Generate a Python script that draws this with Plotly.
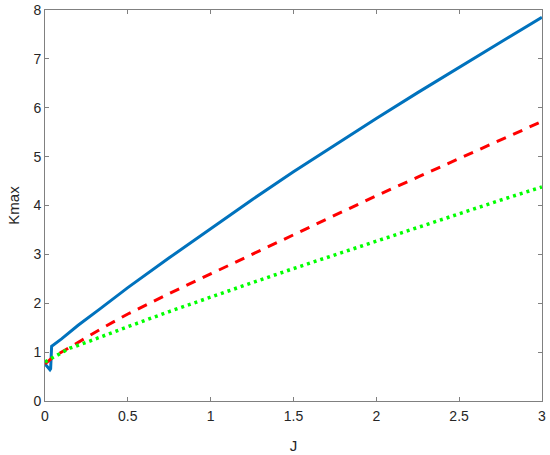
import plotly.graph_objects as go

# Blue solid curve
j_blue = [0.0, 0.015, 0.03, 0.034, 0.036, 0.04, 0.1, 0.2, 0.33, 0.5, 0.75, 1.0, 1.25, 1.5, 1.75, 2.0, 2.25, 2.5, 2.75, 3.0]
k_blue = [0.76, 0.70, 0.64, 0.66, 1.05, 1.12, 1.27, 1.55, 1.88, 2.32, 2.93, 3.53, 4.12, 4.69, 5.24, 5.78, 6.31, 6.83, 7.34, 7.85]

# Red dashed curve
j_red = [0.0, 0.05, 0.15, 0.25, 0.35, 0.5, 0.75, 1.0, 1.25, 1.5, 1.75, 2.0, 2.25, 2.5, 2.75, 3.0]
k_red = [0.76, 0.9, 1.1, 1.3, 1.5, 1.78, 2.2, 2.6, 3.0, 3.4, 3.8, 4.2, 4.58, 4.96, 5.34, 5.72]

# Green dotted curve
j_green = [0.0, 0.05, 0.15, 0.25, 0.35, 0.5, 0.75, 1.0, 1.25, 1.5, 1.75, 2.0, 2.25, 2.5, 2.75, 3.0]
k_green = [0.80, 0.9, 1.08, 1.2, 1.33, 1.52, 1.83, 2.13, 2.42, 2.71, 2.99, 3.28, 3.56, 3.83, 4.11, 4.38]

x_ticks = [0, 0.5, 1, 1.5, 2, 2.5, 3]
x_tick_labels = ["0", "0.5", "1", "1.5", "2", "2.5", "3"]
y_ticks = [0, 1, 2, 3, 4, 5, 6, 7, 8]

FONT = "Liberation Sans, Arial, sans-serif"

fig = go.Figure()
fig.add_trace(go.Scatter(x=j_blue, y=k_blue, mode="lines",
                         line=dict(color="#0072BD", width=3), showlegend=False))
fig.add_trace(go.Scatter(x=j_red, y=k_red, mode="lines",
                         line=dict(color="#FF0000", width=3, dash="10px,8px"), showlegend=False))
fig.add_trace(go.Scatter(x=j_green, y=k_green, mode="lines",
                         line=dict(color="#00FF00", width=3.5, dash="3px,4px"), showlegend=False))

axis_common = dict(showline=True, linecolor="#808080", linewidth=1, mirror="ticks",
                   ticks="inside", ticklen=4, tickcolor="#808080", showgrid=False,
                   zeroline=False, automargin=False,
                   tickfont=dict(family=FONT, size=14, color="#262626"))

fig.update_xaxes(range=[0, 3.0005], tickvals=x_ticks, ticktext=x_tick_labels,
                 ticklabelstandoff=2,
                 title=dict(text="J", font=dict(family=FONT, size=15, color="#262626"), standoff=17),
                 **axis_common)
fig.update_yaxes(range=[0, 8.0005], tickvals=y_ticks,
                 title=dict(text="Kmax", font=dict(family=FONT, size=15, color="#262626"), standoff=10),
                 **axis_common)

fig.update_layout(width=550, height=455, margin=dict(l=45, r=8, t=10, b=54),
                  plot_bgcolor="white", paper_bgcolor="white")

fig.write_html("out.html", config={"displayModeBar": False},
               post_script="document.body.style.margin='0';")
